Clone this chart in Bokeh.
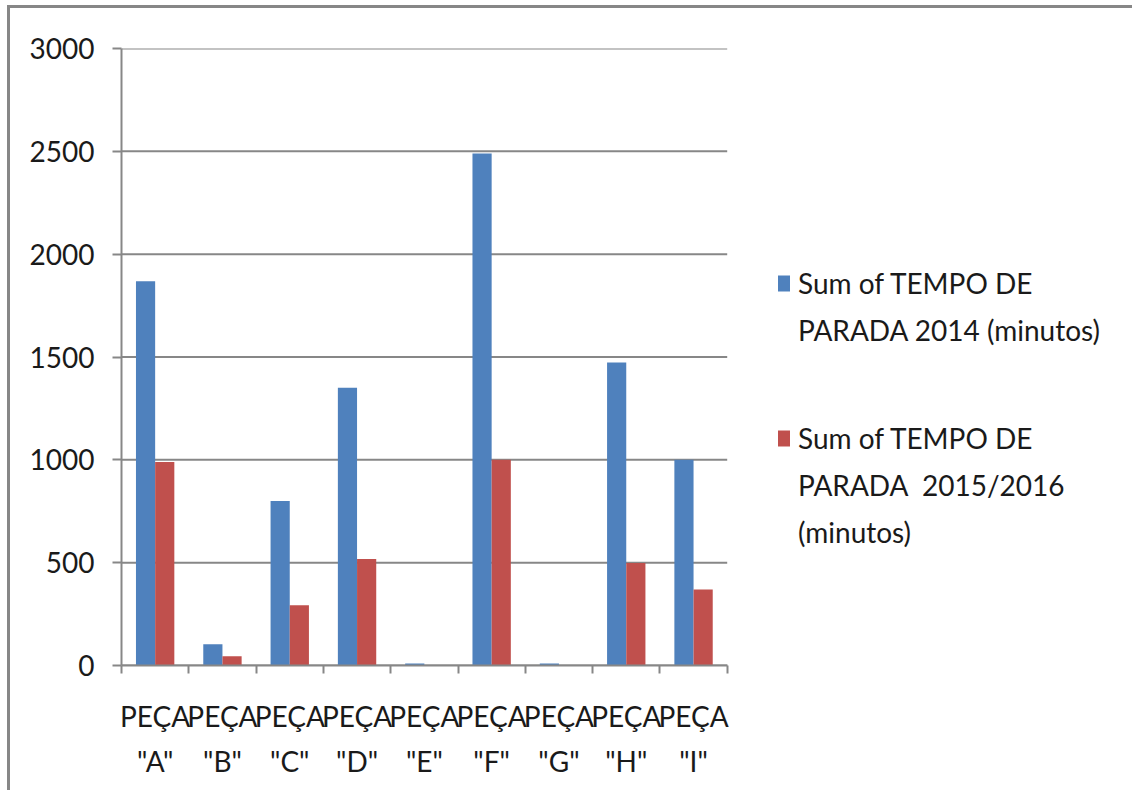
from bokeh.plotting import figure
from bokeh.models import Range1d, FixedTicker, Legend, LegendItem, ColumnDataSource
from bokeh.transform import dodge
from bokeh.embed import file_html
from bokeh.resources import INLINE

categories = ['PEÇA\n"A"', 'PEÇA\n"B"', 'PEÇA\n"C"', 'PEÇA\n"D"', 'PEÇA\n"E"',
              'PEÇA\n"F"', 'PEÇA\n"G"', 'PEÇA\n"H"', 'PEÇA\n"I"']
tempo_2014 = [1868, 103, 800, 1351, 10, 2489, 10, 1473, 1000]
tempo_2015_2016 = [990, 45, 293, 518, 0, 1000, 0, 498, 370]
y_ticks = [0, 500, 1000, 1500, 2000, 2500, 3000]
legend1_lines = ["Sum of TEMPO DE", "PARADA 2014 (minutos)"]
legend2_lines = ["Sum of TEMPO DE", "PARADA  2015/2016", "(minutos)"]

BLUE = "#4F81BD"
RED = "#C0504D"
GRAY = "#878787"
FONT = "Lato"
FS = "28px"

n = len(categories)
centers = [i + 0.5 for i in range(n)]
src = ColumnDataSource(dict(x=centers, a=tempo_2014, b=tempo_2015_2016))

W, H = 1125, 785
MBL, MBR = 111, 5
CAT_PX = 66.9  # pixel width of one category
frame_w = W - 6 - MBL - MBR
x_end = frame_w / CAT_PX

p = figure(width=W, height=H, output_backend="svg", toolbar_location=None,
           x_range=Range1d(0, x_end), y_range=Range1d(0, 3000),
           min_border_left=MBL, min_border_right=MBR, min_border_top=40,
           min_border_bottom=128)
p.styles = {"border-top": f"3px solid {GRAY}", "border-left": f"3px solid {GRAY}",
            "margin-top": "5px", "margin-left": "7px"}
p.outline_line_color = None
p.background_fill_color = "white"
p.border_fill_color = "white"

# gridlines limited to the category area
gsrc = ColumnDataSource(dict(x0=[0] * len(y_ticks), x1=[n] * len(y_ticks), y=y_ticks))
p.segment(x0='x0', x1='x1', y0='y', y1='y', source=gsrc, line_color=GRAY, line_width=2)

r1 = p.vbar(x=dodge('x', -0.1425), top='a', width=0.285, source=src,
            fill_color=BLUE, line_color=None)
r2 = p.vbar(x=dodge('x', 0.1425), top='b', width=0.285, source=src,
            fill_color=RED, line_color=None)
blank = p.vbar(x=[], top=[], width=0.1, fill_alpha=0, line_alpha=0)

p.xgrid.grid_line_color = None
p.ygrid.grid_line_color = None

# y axis
ya = p.yaxis[0]
ya.ticker = FixedTicker(ticks=y_ticks)
ya.axis_line_color = GRAY
ya.axis_line_width = 2
ya.major_tick_line_color = GRAY
ya.major_tick_line_width = 2
ya.major_tick_out = 9
ya.major_tick_in = 0
ya.minor_tick_line_color = None
ya.major_label_text_font = FONT
ya.major_label_text_font_size = FS
ya.major_label_text_color = "#1a1a1a"
ya.major_label_standoff = 18

# x axis
xa = p.xaxis[0]
xa.bounds = (0, n)
xa.ticker = FixedTicker(ticks=centers, minor_ticks=list(range(n + 1)))
xa.major_label_overrides = {c: lab for c, lab in zip(centers, categories)}
xa.axis_line_color = GRAY
xa.axis_line_width = 2
xa.major_tick_line_color = None
xa.major_tick_out = 0
xa.major_tick_in = 0
xa.minor_tick_line_color = GRAY
xa.minor_tick_line_width = 2
xa.minor_tick_out = 8
xa.minor_tick_in = 0
xa.major_label_text_font = FONT
xa.major_label_text_font_size = FS
xa.major_label_text_color = "#1a1a1a"
xa.major_label_text_line_height = 1.34
xa.major_label_standoff = 25


def make_legend(lines, rend, loc):
    items = [LegendItem(label=lines[0], renderers=[rend])]
    items += [LegendItem(label=t, renderers=[blank]) for t in lines[1:]]
    return Legend(items=items, location=loc, orientation="vertical",
                  border_line_color=None, background_fill_alpha=0,
                  padding=0, margin=0, spacing=13, label_height=34,
                  glyph_width=15, glyph_height=20, label_standoff=7,
                  label_text_font=FONT, label_text_font_size=FS,
                  label_text_color="#1a1a1a")


p.add_layout(make_legend(legend1_lines, r1, (655, 318)), "center")
p.add_layout(make_legend(legend2_lines, r2, (655, 116)), "center")

open("out.html", "w").write(file_html(p, INLINE))
